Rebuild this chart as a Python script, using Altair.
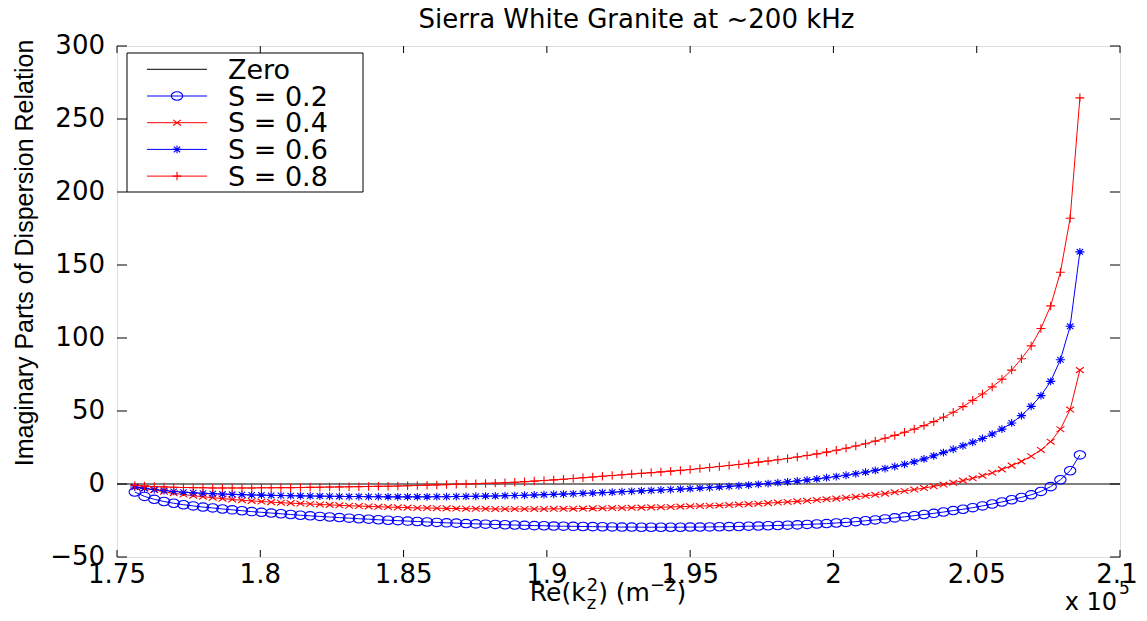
import altair as alt
import pandas as pd

# ---------------- data ----------------
TITLE = "Sierra White Granite at ~200 kHz"
Y_TITLE = "Imaginary Parts of Dispersion Relation"

x_vals = [
    1.7562, 1.7596, 1.7630, 1.7664, 1.7698, 1.7732, 1.7766, 1.7800, 1.7834, 1.7868,
    1.7902, 1.7936, 1.7970, 1.8004, 1.8038, 1.8072, 1.8106, 1.8140, 1.8174, 1.8208,
    1.8242, 1.8276, 1.8310, 1.8344, 1.8378, 1.8412, 1.8446, 1.8480, 1.8514, 1.8548,
    1.8582, 1.8616, 1.8650, 1.8684, 1.8718, 1.8752, 1.8786, 1.8820, 1.8854, 1.8888,
    1.8922, 1.8956, 1.8990, 1.9024, 1.9058, 1.9092, 1.9126, 1.9160, 1.9194, 1.9228,
    1.9262, 1.9296, 1.9330, 1.9364, 1.9398, 1.9432, 1.9466, 1.9500, 1.9534, 1.9568,
    1.9602, 1.9636, 1.9670, 1.9704, 1.9738, 1.9772, 1.9806, 1.9840, 1.9874, 1.9908,
    1.9942, 1.9976, 2.0010, 2.0044, 2.0078, 2.0112, 2.0146, 2.0180, 2.0214, 2.0248,
    2.0282, 2.0316, 2.0350, 2.0384, 2.0418, 2.0452, 2.0486, 2.0520, 2.0554, 2.0588,
    2.0622, 2.0656, 2.0690, 2.0724, 2.0758, 2.0792, 2.0826, 2.0860,
]

s02 = [
    -5.5, -8.5, -10.5, -12.0, -13.2, -14.2, -15.0, -15.8, -16.4, -17.1,
    -17.7, -18.3, -18.9, -19.4, -19.9, -20.4, -20.9, -21.4, -21.8, -22.2,
    -22.6, -23.0, -23.4, -23.8, -24.1, -24.5, -24.8, -25.1, -25.4, -25.7,
    -26.0, -26.3, -26.6, -26.8, -27.1, -27.3, -27.5, -27.7, -27.9, -28.1,
    -28.3, -28.5, -28.6, -28.8, -28.9, -29.0, -29.1, -29.2, -29.3, -29.4,
    -29.5, -29.5, -29.6, -29.6, -29.6, -29.6, -29.6, -29.5, -29.5, -29.4,
    -29.3, -29.2, -29.1, -28.9, -28.8, -28.6, -28.4, -28.2, -28.0, -27.7,
    -27.4, -27.1, -26.7, -26.3, -25.8, -25.2, -24.6, -23.9, -23.2, -22.5,
    -21.7, -20.9, -20.1, -19.2, -18.2, -17.3, -16.2, -15.0, -13.7, -12.3,
    -10.8, -9.2, -7.4, -5.1, -1.8, 2.9, 9.1, 19.9,
]

s04 = [
    -1.8, -3.0, -4.2, -5.3, -6.3, -7.2, -8.0, -8.7, -9.4, -10.0,
    -10.6, -11.1, -11.6, -12.0, -12.4, -12.8, -13.1, -13.4, -13.7, -14.0,
    -14.3, -14.6, -14.9, -15.1, -15.4, -15.6, -15.8, -16.0, -16.2, -16.4,
    -16.5, -16.6, -16.7, -16.8, -16.9, -17.0, -17.0, -17.1, -17.1, -17.1,
    -17.1, -17.1, -17.1, -17.0, -17.0, -16.9, -16.8, -16.7, -16.6, -16.5,
    -16.4, -16.3, -16.2, -16.0, -15.9, -15.7, -15.5, -15.3, -15.1, -14.9,
    -14.7, -14.4, -14.1, -13.8, -13.5, -13.1, -12.7, -12.3, -11.9, -11.5,
    -11.0, -10.5, -10.0, -9.4, -8.8, -8.1, -7.4, -6.6, -5.7, -4.8,
    -3.8, -2.8, -1.6, -0.4, 0.9, 2.3, 3.9, 5.7, 7.7, 10.0,
    12.6, 15.5, 19.0, 23.3, 29.0, 37.5, 51.0, 78.0,
]

s06 = [
    -2.1, -3.0, -3.8, -4.5, -5.1, -5.6, -6.0, -6.3, -6.6, -6.9,
    -7.1, -7.3, -7.5, -7.6, -7.8, -7.9, -8.0, -8.1, -8.2, -8.3,
    -8.4, -8.5, -8.6, -8.6, -8.7, -8.7, -8.8, -8.8, -8.8, -8.8,
    -8.8, -8.7, -8.7, -8.6, -8.5, -8.4, -8.3, -8.2, -8.0, -7.9,
    -7.7, -7.5, -7.3, -7.1, -6.9, -6.7, -6.4, -6.2, -5.9, -5.6,
    -5.3, -5.0, -4.7, -4.4, -4.1, -3.8, -3.5, -3.2, -2.8, -2.4,
    -2.0, -1.6, -1.2, -0.7, -0.2, 0.3, 0.9, 1.5, 2.1, 2.8,
    3.5, 4.3, 5.1, 6.0, 7.0, 8.1, 9.3, 10.6, 12.0, 13.5,
    15.2, 17.2, 19.3, 21.5, 23.8, 26.2, 28.6, 31.2, 34.2, 37.6,
    41.8, 46.8, 53.2, 60.5, 70.3, 85.1, 108.0, 159.0,
]

s08 = [
    -1.0, -1.4, -1.7, -2.0, -2.2, -2.4, -2.5, -2.6, -2.7, -2.7,
    -2.7, -2.7, -2.7, -2.6, -2.6, -2.5, -2.5, -2.4, -2.3, -2.2,
    -2.1, -2.0, -1.9, -1.8, -1.7, -1.6, -1.5, -1.4, -1.2, -1.0,
    -0.8, -0.6, -0.4, -0.2, 0.0, 0.2, 0.4, 0.6, 0.9, 1.2,
    1.6, 2.0, 2.4, 2.8, 3.3, 3.8, 4.3, 4.8, 5.3, 5.8,
    6.3, 6.8, 7.3, 7.8, 8.3, 8.8, 9.3, 9.9, 10.6, 11.3,
    12.0, 12.7, 13.4, 14.2, 15.0, 15.8, 16.6, 17.5, 18.5, 19.5,
    20.6, 21.8, 23.1, 24.5, 26.0, 27.6, 29.4, 31.3, 33.3, 35.4,
    37.6, 40.0, 42.7, 45.7, 49.1, 53.0, 57.3, 61.6, 66.5, 71.8,
    78.0, 85.8, 94.6, 106.5, 122.0, 145.0, 182.0, 264.5,
]

zero_x = [1.75, 2.1]
zero_y = [0.0, 0.0]

series_names = ["S = 0.2", "S = 0.4", "S = 0.6", "S = 0.8"]
series_values = [s02, s04, s06, s08]
series_colors = ["#0000ff", "#ff0000", "#0000ff", "#ff0000"]

x_ticks = [1.75, 1.8, 1.85, 1.9, 1.95, 2.0, 2.05, 2.1]
x_tick_labels = ["1.75", "1.8", "1.85", "1.9", "1.95", "2", "2.05", "2.1"]
y_ticks = [-50, 0, 50, 100, 150, 200, 250, 300]
y_tick_labels = ["\u221250", "0", "50", "100", "150", "200", "250", "300"]

# ---------------- styling ----------------
W, H = 1003, 511
FONT = "DejaVu Sans, Liberation Sans, Arial, sans-serif"
YFONT = "Liberation Sans, Arial, Helvetica, sans-serif"

# marker paths (drawn in a unit box, scaled by sqrt(size))
SHAPES = {
    "S = 0.2": "M-1,0A1,0.74,0,1,1,1,0A1,0.74,0,1,1,-1,0Z",          # open (stretched) circle
    "S = 0.4": "M-1,-0.72L1,0.72M-1,0.72L1,-0.72",                     # x
    "S = 0.6": "M-1,0L1,0M0,-0.85L0,0.85M-0.7,-0.62L0.7,0.62M-0.7,0.62L0.7,-0.62",  # asterisk
    "S = 0.8": "M-1,0L1,0M0,-0.95L0,0.95",                             # plus
}
SIZES = {"S = 0.2": 130, "S = 0.4": 62, "S = 0.6": 84, "S = 0.8": 80}

xs = alt.Scale(domain=[1.75, 2.1], nice=False, zero=False)
ys = alt.Scale(domain=[-50, 300], nice=False, zero=False)

layers = []

# zero line
df_zero = pd.DataFrame({"x": zero_x, "y": zero_y})
layers.append(
    alt.Chart(df_zero).mark_line(color="black", strokeWidth=1).encode(
        x=alt.X("x:Q", scale=xs, axis=None),
        y=alt.Y("y:Q", scale=ys, axis=None),
    )
)

# data series: line + markers, in plotting order
for name, vals, col in zip(series_names, series_values, series_colors):
    df = pd.DataFrame({"x": x_vals, "y": vals})
    enc = dict(x=alt.X("x:Q", scale=xs, axis=None), y=alt.Y("y:Q", scale=ys, axis=None))
    layers.append(alt.Chart(df).mark_line(color=col, strokeWidth=1).encode(**enc))
    layers.append(
        alt.Chart(df).mark_point(shape=SHAPES[name], size=SIZES[name], filled=False,
                                 color=col, strokeWidth=1.1, opacity=1).encode(**enc)
    )

# inward ticks on all four sides
df_xt = pd.DataFrame({"v": x_ticks, "lab": x_tick_labels})
df_yt = pd.DataFrame({"v": y_ticks, "lab": y_tick_labels})
for ypos in (H - 3.5, 3.5):
    layers.append(
        alt.Chart(df_xt).mark_tick(orient="vertical", size=7, thickness=1, color="black",
                                   opacity=1).encode(
            x=alt.X("v:Q", scale=xs, axis=None), y=alt.value(ypos))
    )
for xpos in (5, W - 5):
    layers.append(
        alt.Chart(df_yt).mark_tick(orient="horizontal", size=10, thickness=1, color="black",
                                   opacity=1).encode(
            y=alt.Y("v:Q", scale=ys, axis=None), x=alt.value(xpos))
    )

# tick labels (the last x label is nudged left so it stays inside the page)
layers.append(
    alt.Chart(df_xt.iloc[:-1]).mark_text(font=FONT, fontSize=26, align="center",
                                         baseline="alphabetic", color="black").encode(
        x=alt.X("v:Q", scale=xs, axis=None), y=alt.value(H + 26), text="lab:N")
)
layers.append(
    alt.Chart(df_xt.iloc[-1:]).mark_text(font=FONT, fontSize=26, align="center", dx=-3,
                                         baseline="alphabetic", color="black").encode(
        x=alt.X("v:Q", scale=xs, axis=None), y=alt.value(H + 26), text="lab:N")
)
layers.append(
    alt.Chart(df_yt).mark_text(font=FONT, fontSize=26, align="right", baseline="middle",
                               color="black").encode(
        y=alt.Y("v:Q", scale=ys, axis=None), x=alt.value(-12), text="lab:N")
)

one = pd.DataFrame({"a": [0]})


def label(text, x, y, size, align="left", baseline="alphabetic", font=FONT, angle=0):
    return alt.Chart(one).mark_text(text=text, font=font, fontSize=size, align=align,
                                    baseline=baseline, color="black", angle=angle).encode(
        x=alt.value(x), y=alt.value(y))


# y-axis title
layers.append(label(Y_TITLE, -84, 207, 25, align="center", font=YFONT, angle=270))

# title
layers.append(label(TITLE, W / 2 + 18, -18, 26, align="center"))

# x-axis title  Re(k_z^2) (m^-2)  built from pieces (DejaVu Sans advance widths)
CW = {"R": .695, "e": .615, "(": .390, "k": .579, ")": .390, " ": .318, "m": .974,
      "2": .636, "z": .525, "\u2212": .838}


def tw(s, fs):
    return sum(CW[c] for c in s) * fs


MAIN, SMALL = 25, 18
pieces = [("Re(k", "main"), (("2", "z"), "supsub"), (") (m", "main"), ("\u22122", "sup"), (")", "main")]
total = tw("Re(k", MAIN) + tw("2", SMALL) + tw(") (m", MAIN) + tw("\u22122", SMALL) + tw(")", MAIN)
cx = 491 - total / 2
base = 555
for txt, kind in pieces:
    if kind == "main":
        layers.append(label(txt, cx, base, MAIN))
        cx += tw(txt, MAIN)
    elif kind == "sup":
        layers.append(label(txt, cx, base - 10, SMALL))
        cx += tw(txt, SMALL)
    else:
        layers.append(label(txt[0], cx, base - 10, SMALL))
        layers.append(label(txt[1], cx, base + 8, SMALL))
        cx += max(tw(txt[0], SMALL), tw(txt[1], SMALL))

# exponent note  x 10^5
layers.append(label("x 10", W - 3, 564, 24, align="right"))
layers.append(label("5", W - 1, 548, 17))

# legend box and entries
layers.append(
    alt.Chart(one).mark_rect(fill="white", stroke="black", strokeWidth=1).encode(
        x=alt.value(10), x2=alt.value(246), y=alt.value(7), y2=alt.value(146))
)
legend_entries = ["Zero"] + series_names
legend_colors = ["black"] + series_colors
for r, (name, col) in enumerate(zip(legend_entries, legend_colors)):
    ly = 23.3 + 26.7 * r
    layers.append(
        alt.Chart(one).mark_rule(color=col, strokeWidth=1).encode(
            x=alt.value(30), x2=alt.value(90), y=alt.value(ly))
    )
    if name in SHAPES:
        layers.append(
            alt.Chart(one).mark_point(shape=SHAPES[name], size=SIZES[name], filled=False,
                                      color=col, strokeWidth=1.1, opacity=1).encode(
                x=alt.value(60), y=alt.value(ly))
        )
    layers.append(label(name, 111, ly + 9.5, 27))

# total size 1131 x 605 so that the page (with its 8px margins) does not overflow
chart = alt.layer(*layers).properties(
    width=W, height=H,
    autosize=alt.AutoSizeParams(type="none"),
    padding={"left": 109, "top": 38, "right": 19, "bottom": 56},
).configure_view(stroke="black", strokeWidth=1).configure(background="white")

chart.save("out.html", embed_options={"renderer": "svg", "actions": False})
